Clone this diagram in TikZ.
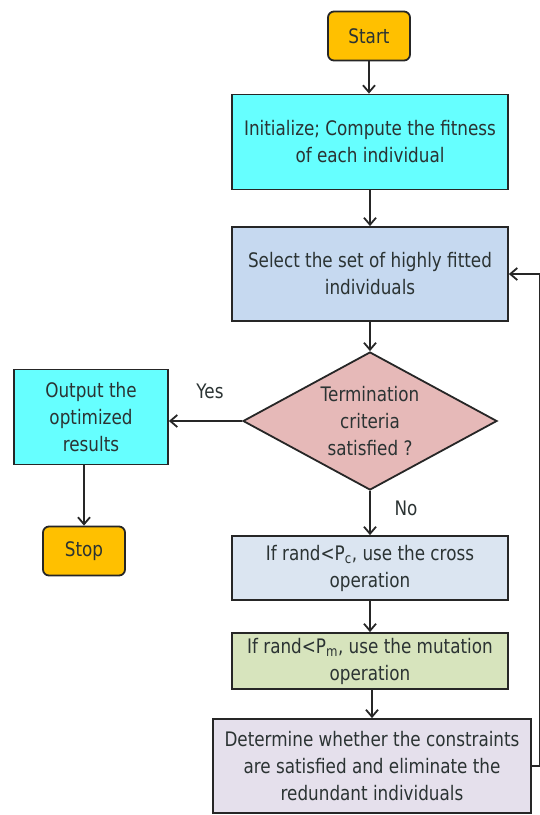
\documentclass[tikz,border=0pt]{standalone}
\usepackage{fontspec}
\setmainfont{DejaVu Sans}[FakeStretch=0.84]
\usetikzlibrary{shapes.geometric,arrows.meta}

\definecolor{startorange}{HTML}{FFC000}
\definecolor{initcyan}{HTML}{66FFFF}
\definecolor{selectblue}{HTML}{C6D9F0}
\definecolor{termpink}{HTML}{E6B9B8}
\definecolor{crossblue}{HTML}{DBE5F1}
\definecolor{mutgreen}{HTML}{D7E4BD}
\definecolor{detlilac}{HTML}{E5E0EC}
\definecolor{txtgray}{HTML}{2B3333}

\tikzset{
    box/.style={draw=black!85,line width=1.8pt,rectangle,align=center,inner sep=0pt,text=txtgray,
        font=\fontsize{20}{27}\selectfont},
    term/.style={box,rounded corners=6pt,fill=startorange,minimum width=82pt,minimum height=49pt},
    choice/.style={box,diamond,aspect=1.84,fill=termpink,minimum width=254pt,minimum height=138pt},
    flow/.style={-{Straight Barb[length=7pt,width=12pt,line width=1.8pt]},line width=1.8pt,draw=black!85},
    lbl/.style={text=txtgray,font=\fontsize{20}{27}\selectfont}
}

\begin{document}
\begin{tikzpicture}[x=1pt,y=-1pt]
    \useasboundingbox (0,0) rectangle (540,815);

    \node[term] (start) at (369,36) {Start};
    \node[box,fill=initcyan,minimum width=276pt,minimum height=95pt] (init) at (370,142)
        {Initialize; Compute the fitness\\of each individual};
    \node[box,fill=selectblue,minimum width=276pt,minimum height=94pt] (select) at (370,274)
        {Select the set of highly fitted\\individuals};
    \node[choice] (stopq) at (370,421) {Termination\\criteria\\satisfied ?};
    \node[box,fill=initcyan,minimum width=154pt,minimum height=95pt] (output) at (91,417)
        {Output the\\optimized\\results};
    \node[term] (stop) at (84,551) {Stop};
    \node[box,fill=crossblue,minimum width=276pt,minimum height=64pt] (cross) at (370,568)
        {If rand<P\textsubscript{c}, use the cross\\operation};
    \node[box,fill=mutgreen,minimum width=276pt,minimum height=56pt] (mutate) at (370,661)
        {If rand<P\textsubscript{m}, use the mutation\\operation};
    \node[box,fill=detlilac,minimum width=318pt,minimum height=94pt] (check) at (372,766)
        {Determine whether the constraints\\are satisfied and eliminate the\\redundant individuals};

    \node[lbl] (yes) at (210,391) {Yes};
    \node[lbl] (no) at (406,508) {No};

    \draw[flow] (start) -- (start |- init.north);
    \draw[flow] (init) -- (select);
    \draw[flow] (select) -- (stopq);
    \draw[flow] (stopq.west) -- (stopq.west -| output.east);
    \draw[flow] (output.south -| stop) -- (stop);
    \draw[flow] (stopq) -- (cross);
    \draw[flow] (cross) -- (mutate);
    \draw[flow] (mutate.south -| check) -- (check);
    \draw[flow] (check.east) -- ++(8,0) |- (select.east);
\end{tikzpicture}
\end{document}
